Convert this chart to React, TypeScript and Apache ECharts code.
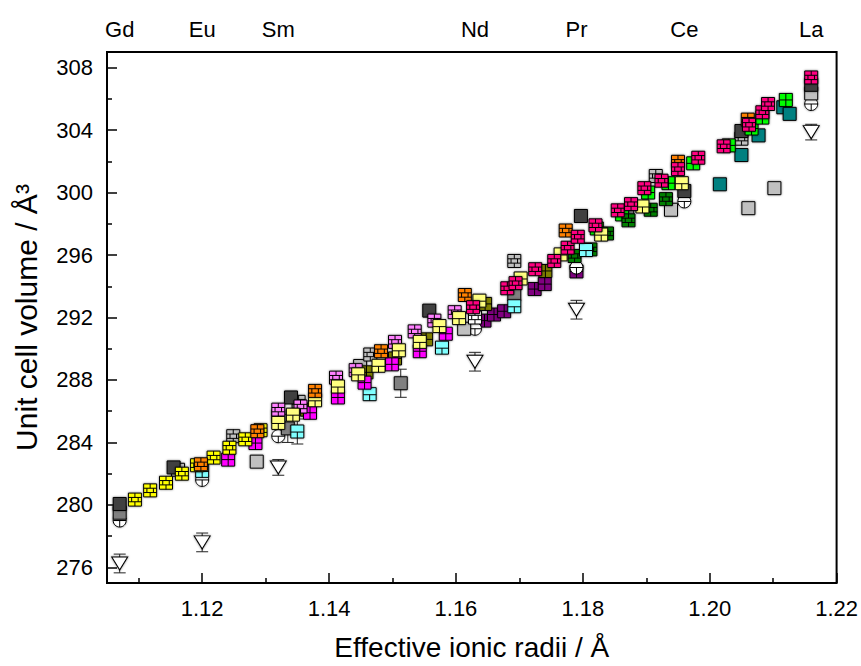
import React, { useEffect, useRef } from "react";
import * as echarts from "echarts";

// ---- Data (effective ionic radius / Å, unit cell volume / Å^3) ----
const xMajorTicks = [1.12, 1.14, 1.16, 1.18, 1.2, 1.22];
const xMinorTicks = [1.11, 1.13, 1.15, 1.17, 1.19, 1.21];
const yMajorTicks = [276, 280, 284, 288, 292, 296, 300, 304, 308];
const yMinorTicks = [278, 282, 286, 290, 294, 298, 302, 306];
const elementNames = ["Gd", "Eu", "Sm", "Nd", "Pr", "Ce", "La"];
const elementRadii = [1.107, 1.12, 1.132, 1.163, 1.179, 1.196, 1.216];

const triangles = [[1.107, 276.25], [1.12, 277.6], [1.132, 282.4], [1.163, 289.17], [1.179, 292.5], [1.216, 303.87]];
const circles = [[1.107, 279.0], [1.12, 281.6], [1.132, 284.4], [1.163, 291.28], [1.179, 295.2], [1.196, 299.43], [1.216, 305.67]];
const grayPlain = [[1.107, 279.5], [1.1335, 284.9], [1.1513, 287.79], [1.1692, 293.5], [1.187, 298.79]];
const lightGrayPlain = [[1.1286, 282.77], [1.1449, 288.89], [1.1613, 291.28], [1.1939, 298.9], [1.2061, 299.0], [1.2102, 300.28], [1.216, 306.35]];
const grayBrick = [[1.1162, 282.25], [1.1249, 284.4], [1.1352, 286.6], [1.1465, 289.63], [1.1692, 295.62], [1.1915, 301.06], [1.205, 303.45]];
const whiteBrick = [[1.132, 285.68], [1.163, 292.0]];
const darkGray = [[1.107, 280.06], [1.1155, 282.4], [1.134, 286.88], [1.1558, 292.44], [1.1797, 298.5], [1.196, 300.1], [1.205, 303.94], [1.216, 306.9]];
const tealPlain = [[1.2016, 300.53], [1.205, 302.4], [1.2077, 303.66], [1.2116, 305.46], [1.2126, 305.04]];
const greenCross = [[1.1822, 297.7], [1.1862, 298.6], [1.1903, 300.0], [1.1935, 300.6], [1.1974, 301.87], [1.203, 303.02], [1.2066, 304.1], [1.2083, 304.8], [1.212, 305.93]];
const darkGreenBrick = [[1.1787, 295.94], [1.1812, 296.36], [1.1838, 297.38], [1.1872, 298.22], [1.1907, 298.9], [1.1931, 299.58]];
const purpleCross = [[1.1645, 291.8], [1.166, 292.19], [1.1676, 292.4], [1.1724, 293.82], [1.174, 294.14], [1.179, 294.95]];
const oliveCross = [[1.1365, 286.1], [1.1459, 288.49], [1.1504, 289.38], [1.1553, 290.6], [1.1646, 292.87], [1.1741, 294.98]];
const cyanPattern = [[1.12, 282.18], [1.135, 284.7], [1.1464, 287.09], [1.1578, 290.07], [1.1692, 292.72], [1.1805, 296.32]];
const magentaCross = [[1.1241, 282.9], [1.1284, 283.96], [1.137, 285.9], [1.1414, 286.88], [1.1456, 287.83], [1.1499, 289.0], [1.1543, 289.84], [1.1584, 290.96]];
const violetBrick = [[1.132, 286.1], [1.1355, 286.3], [1.1411, 288.15], [1.1442, 288.63], [1.1504, 290.44], [1.1535, 291.11], [1.1566, 291.8], [1.1598, 292.34]];
const lightYellow = [[1.132, 285.25], [1.1343, 285.78], [1.1378, 286.7], [1.1414, 287.58], [1.1446, 288.36], [1.1478, 288.91], [1.151, 289.9], [1.1543, 290.44], [1.1574, 291.45], [1.1605, 291.96], [1.1637, 293.08], [1.1702, 294.5], [1.1765, 296.04], [1.1829, 297.31], [1.1894, 299.11], [1.1956, 300.6]];
const yellowBrick = [[1.1094, 280.34], [1.1118, 280.93], [1.1143, 281.42], [1.1168, 282.0], [1.1192, 282.54], [1.1218, 283.03], [1.1243, 283.66], [1.1268, 284.2], [1.1292, 284.78]];
const orangeBrick = [[1.1198, 282.6], [1.1287, 284.72], [1.1378, 287.3], [1.1482, 289.84], [1.1614, 293.44], [1.1773, 297.57], [1.195, 301.97], [1.206, 304.67]];
const pinkBrick = [[1.1627, 292.66], [1.1681, 293.87], [1.1694, 294.2], [1.1725, 295.09], [1.1755, 295.62], [1.1776, 296.47], [1.1792, 297.17], [1.182, 297.9], [1.1855, 298.86], [1.1876, 299.26], [1.1897, 300.28], [1.1924, 300.76], [1.195, 301.5], [1.1982, 302.23], [1.2022, 302.96], [1.2062, 304.34], [1.2083, 305.14], [1.2092, 305.67], [1.216, 307.37]];
// [x, y, error]
const errorBars = [[1.107, 276.25, 0.6], [1.12, 277.6, 0.6], [1.132, 282.4, 0.5], [1.163, 289.17, 0.6], [1.179, 292.5, 0.6], [1.216, 303.87, 0.5], [1.1335, 284.9, 0.9], [1.1513, 287.79, 0.9], [1.135, 284.7, 0.8]];

const BRICK = "path://M0,0H12V12H0Z M0,4H12 M0,8H12 M6,0V4 M3,4V8 M9,4V8 M6,8V12";
const CROSS = "path://M0,0H12V12H0Z M0,6H12 M6,0V12";
const TEE = "path://M0,0H12V12H0Z M0,6.5H12 M6,6.5V12";
const CIRCLE = "path://M6,0C9.31,0 12,2.69 12,6C12,9.31 9.31,12 6,12C2.69,12 0,9.31 0,6C0,2.69 2.69,0 6,0Z M0,6H12 M6,6V12";
const TRIANGLE = "path://M0,0H14L7,12Z";
const FONT = "Liberation Sans, Arial, sans-serif";

function scatter(name: string, data: number[][], symbol: string, color: string, size: any = 13) {
  return {
    name,
    type: "scatter",
    data,
    symbol,
    symbolSize: size,
    itemStyle: {
      color,
      borderColor: "#000",
      borderWidth: 1,
      opacity: 1,
      shadowBlur: 2.5,
      shadowColor: "rgba(0,0,0,0.5)",
    },
    emphasis: { disabled: true },
  };
}

export default function App() {
  const ref = useRef<HTMLDivElement>(null);
  useEffect(() => {
    if (!ref.current) return;
    const chart = echarts.init(ref.current, null, { renderer: "svg" });
    const baseX = { type: "value", min: 1.105, max: 1.22, splitLine: { show: false }, axisLine: { show: false } };
    const baseY = { type: "value", min: 275, max: 309, splitLine: { show: false }, axisLine: { show: false } };
    const lbl = { color: "#000", fontFamily: FONT, fontSize: 22 };
    chart.setOption({
      animation: false,
      grid: { left: 107, right: 24, top: 52, bottom: 79, show: true, borderColor: "#000", borderWidth: 2, backgroundColor: "transparent" },
      xAxis: [
        {
          ...baseX,
          position: "bottom",
          name: "Effective ionic radii / Å",
          nameLocation: "middle",
          nameGap: 50,
          nameTextStyle: { color: "#000", fontFamily: FONT, fontSize: 28 },
          axisTick: { inside: true, length: 10, customValues: xMajorTicks, lineStyle: { color: "#000", width: 1.5 } },
          axisLabel: { ...lbl, margin: 14, customValues: xMajorTicks, formatter: (v: number) => v.toFixed(2) },
        },
        {
          ...baseX,
          position: "bottom",
          axisTick: { inside: true, length: 5, customValues: xMinorTicks, lineStyle: { color: "#000", width: 1.5 } },
          axisLabel: { show: false },
        },
        {
          ...baseX,
          position: "top",
          axisTick: { show: false },
          axisLabel: {
            ...lbl,
            margin: 12,
            customValues: elementRadii,
            formatter: (v: number) => {
              const i = elementRadii.findIndex((r) => Math.abs(r - v) < 1e-5);
              return i >= 0 ? elementNames[i] : "";
            },
          },
        },
      ],
      yAxis: [
        {
          ...baseY,
          position: "left",
          name: "Unit cell volume / Å³",
          nameLocation: "middle",
          nameGap: 66,
          nameTextStyle: { color: "#000", fontFamily: FONT, fontSize: 30 },
          axisTick: { inside: true, length: 10, customValues: yMajorTicks, lineStyle: { color: "#000", width: 1.5 } },
          axisLabel: { ...lbl, margin: 14, customValues: yMajorTicks, formatter: (v: number) => String(v) },
        },
        {
          ...baseY,
          position: "left",
          axisTick: { inside: true, length: 5, customValues: yMinorTicks, lineStyle: { color: "#000", width: 1.5 } },
          axisLabel: { show: false },
        },
      ],
      series: [
        {
          name: "errors",
          type: "custom",
          data: errorBars,
          encode: { x: 0, y: 1 },
          z: 1,
          renderItem: (params: any, api: any) => {
            const x = api.value(0);
            const y = api.value(1);
            const e = api.value(2);
            const top = api.coord([x, y + e]);
            const bot = api.coord([x, y - e]);
            const w = 6;
            const st = { stroke: "#222", lineWidth: 1 };
            return {
              type: "group",
              children: [
                { type: "line", shape: { x1: top[0], y1: top[1], x2: bot[0], y2: bot[1] }, style: st },
                { type: "line", shape: { x1: top[0] - w, y1: top[1], x2: top[0] + w, y2: top[1] }, style: st },
                { type: "line", shape: { x1: bot[0] - w, y1: bot[1], x2: bot[0] + w, y2: bot[1] }, style: st },
              ],
            };
          },
        },
        scatter("triangles", triangles, TRIANGLE, "#fff", [16, 13]),
        scatter("purple", purpleCross, CROSS, "#800080"),
        scatter("circles", circles, CIRCLE, "#fff", 13),
        scatter("grayPlain", grayPlain, "rect", "#808080"),
        scatter("lightGrayPlain", lightGrayPlain, "rect", "#c0c0c0"),
        scatter("grayBrick", grayBrick, BRICK, "#c0c0c0"),
        scatter("whiteBrick", whiteBrick, BRICK, "#ffffff"),
        scatter("darkGray", darkGray, "rect", "#404040"),
        scatter("teal", tealPlain, "rect", "#008080"),
        scatter("green", greenCross, CROSS, "#00ff00"),
        scatter("darkGreen", darkGreenBrick, BRICK, "#008000"),
        scatter("olive", oliveCross, CROSS, "#808000"),
        scatter("cyan", cyanPattern, TEE, "#80ffff"),
        scatter("magenta", magentaCross, CROSS, "#ff00ff"),
        scatter("violet", violetBrick, BRICK, "#ff80ff"),
        scatter("lightYellow", lightYellow, TEE, "#ffff80"),
        scatter("yellow", yellowBrick, BRICK, "#ffff00"),
        scatter("orange", orangeBrick, BRICK, "#ff8000"),
        scatter("pink", pinkBrick, BRICK, "#ff0080"),
      ],
    });
    return () => chart.dispose();
  }, []);
  return <div ref={ref} style={{ position: "absolute", left: 0, top: 0, width: 861, height: 666 }} />;
}
